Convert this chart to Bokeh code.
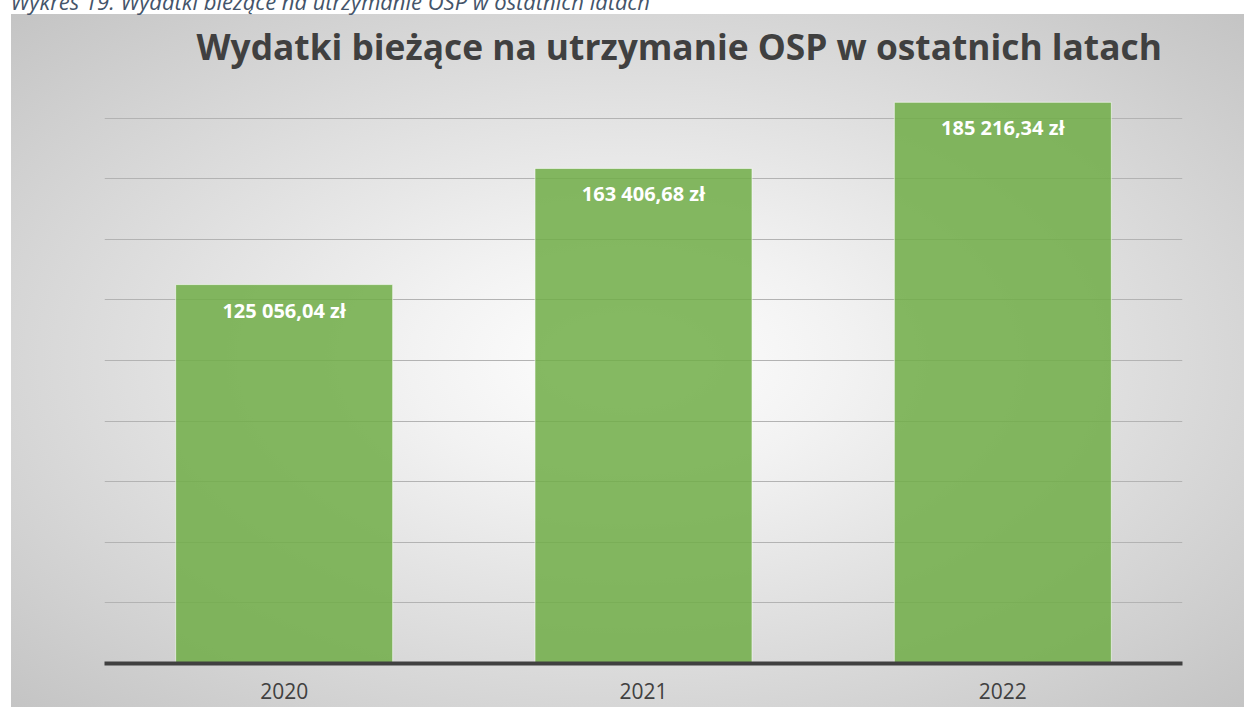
from bokeh.plotting import figure
from bokeh.models import ColumnDataSource, FactorRange, Range1d, FixedTicker, LabelSet, Title
from bokeh.core.properties import value
from bokeh.embed import file_html
from bokeh.resources import INLINE

# ---- data ----
years = ["2020", "2021", "2022"]
amounts = [125056.04, 163406.68, 185216.34]
grid_ticks = [0, 20000, 40000, 60000, 80000, 100000, 120000, 140000, 160000, 180000, 200000]
caption = "Wykres 19. Wydatki bieżące na utrzymanie OSP w ostatnich latach"
title_text = "Wydatki bieżące na utrzymanie OSP w ostatnich latach"


def pl_money(v):
    return f"{v:,.2f}".replace(",", " ").replace(".", ",") + " zł"


labels = [pl_money(v) for v in amounts]
src = ColumnDataSource(dict(x=years, y=amounts, label=labels))

FONT = "Open Sans"

p = figure(
    width=1244, height=741,
    x_range=FactorRange(*years, range_padding=0),
    y_range=Range1d(0, 200000),
    output_backend="svg", toolbar_location=None,
    min_border_left=104, min_border_right=62, min_border_top=60, min_border_bottom=44,
    styles={
        "margin-top": "-34px",
        "margin-bottom": "-40px",
        "max-width": "none",
        "background-image": "radial-gradient(ellipse farthest-corner at center, #ffffff 0%, #f2f2f2 25%, #c4c4c4 100%)",
        "background-repeat": "no-repeat",
        "background-position": "left bottom",
        "background-size": "1233px 693px",
        "background-position-x": "11px",
    },
)
p.background_fill_color = None
p.border_fill_color = None
p.outline_line_color = None

p.vbar(x="x", top="y", width=0.604, source=src,
       fill_color="#70ad47", fill_alpha=0.85,
       line_color="#ffffff", line_alpha=0.6, line_width=1)

p.yaxis.visible = False
p.ygrid.ticker = FixedTicker(ticks=grid_ticks)
p.ygrid.grid_line_color = "#b3b3b3"
p.ygrid.grid_line_width = 1
p.xgrid.grid_line_color = None

ax = p.xaxis[0]
ax.axis_line_color = "#404040"
ax.axis_line_width = 4
ax.major_tick_line_color = None
ax.minor_tick_line_color = None
ax.major_label_text_font = FONT
ax.major_label_text_font_size = "21px"
ax.major_label_text_color = "#404040"
ax.major_label_standoff = 13

p.add_layout(LabelSet(x="x", y="y", text="label", source=src,
                      y_offset=-33, text_align="center", text_baseline="alphabetic",
                      text_font=value(FONT), text_font_style="bold",
                      text_font_size="20px", text_color="#ffffff"))

p.add_layout(Title(text=title_text, align="left", offset=92, standoff=-25,
                   text_baseline="alphabetic",
                   text_font=FONT, text_font_style="bold",
                   text_font_size="35.3px", text_color="#404040"), "above")

p.add_layout(Title(text=caption, align="left", offset=-94, standoff=34,
                   text_baseline="alphabetic",
                   text_font=FONT, text_font_style="italic",
                   text_font_size="22px", text_color="#44546a"), "above")

open("out.html", "w").write(file_html(p, INLINE))
